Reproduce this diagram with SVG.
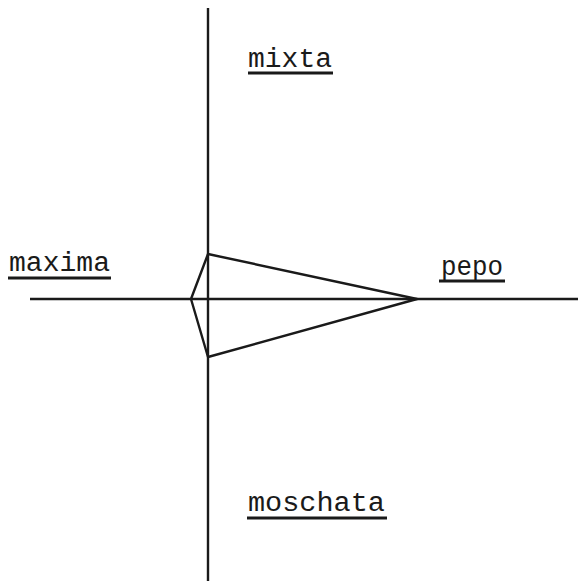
<svg xmlns="http://www.w3.org/2000/svg" width="581" height="587" viewBox="0 0 581 587">
<style>
.ln{stroke:#1a1a1a;stroke-width:2.4;fill:none;stroke-linejoin:round}
.ul{stroke:#1a1a1a;stroke-width:2.8}
.t{font-family:"Liberation Mono","DejaVu Sans Mono",monospace;font-size:27px;fill:#1a1a1a}
</style>
<rect width="581" height="587" fill="#fff"/>
<g id="connectors">
<line class="ln" x1="208" y1="8" x2="208" y2="581"/>
<line class="ln" x1="30" y1="299" x2="578" y2="299"/>
<polygon class="ln" points="208,254 191,299 208,357 417,299"/>
</g>
<g id="mixta"><text class="t" x="248" y="67" textLength="84" lengthAdjust="spacingAndGlyphs">mixta</text><line class="ul" x1="248" y1="73" x2="333" y2="73"/></g>
<g id="maxima"><text class="t" x="9" y="271" textLength="101" lengthAdjust="spacingAndGlyphs">maxima</text><line class="ul" x1="8" y1="278" x2="111" y2="278"/></g>
<g id="pepo"><text class="t" x="441" y="275" textLength="62" lengthAdjust="spacingAndGlyphs">pepo</text><line class="ul" x1="439" y1="281" x2="505" y2="281"/></g>
<g id="moschata"><text class="t" x="248" y="511" textLength="137" lengthAdjust="spacingAndGlyphs">moschata</text><line class="ul" x1="247" y1="518" x2="387" y2="518"/></g>
</svg>
